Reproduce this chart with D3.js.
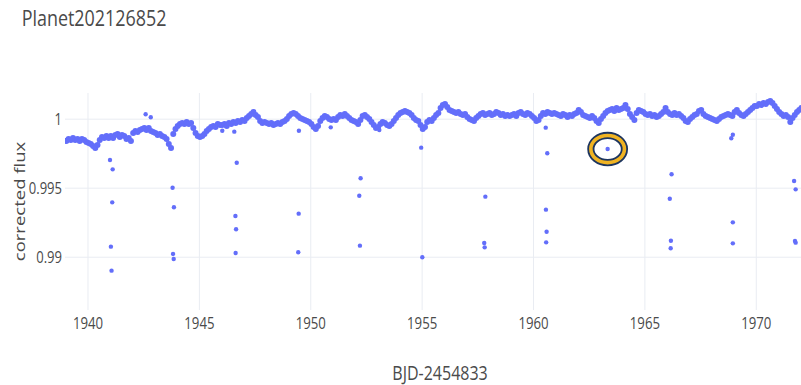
<!DOCTYPE html>
<html>
<head>
<meta charset="utf-8">
<script src="https://cdn.jsdelivr.net/npm/d3@7"></script>
<style>
  html, body { margin: 0; padding: 0; background: #fff; }
  svg { display: block; font-family: "Open Sans", "Noto Sans", sans-serif; }
</style>
</head>
<body>
<svg id="chart" width="801" height="385"></svg>
<script>
// Light curve: long-cadence samples starting at cadenceStart, one every cadenceStep days
const cadenceStart = 1939.05;
const cadenceStep = 0.1;
const flux = [
  0.99839,0.99853,0.99846,0.99860,0.99846,0.99853,0.99839,0.99853,0.99846,0.99831,
  0.99824,0.99817,0.99802,0.99788,0.99810,0.99846,0.99868,0.99860,0.99875,0.99860,
  0.99875,0.99860,0.99882,0.99889,0.99868,0.99882,0.99875,0.99853,0.99860,0.99839,
  0.99897,0.99911,0.99904,0.99918,0.99926,0.99933,0.99918,0.99933,0.99911,0.99904,
  0.99897,0.99882,0.99889,0.99875,0.99868,0.99853,0.99817,0.99788,0.99889,0.99926,
  0.99947,0.99962,0.99969,0.99962,0.99976,0.99962,0.99969,0.99933,0.99897,0.99875,
  0.99868,0.99875,0.99889,0.99911,0.99926,0.99940,0.99947,0.99940,0.99962,0.99954,
  0.99954,0.99962,0.99947,0.99969,0.99962,0.99976,0.99969,0.99983,0.99976,0.99991,
  0.99983,1.00005,1.00020,1.00034,1.00049,1.00027,1.00012,0.99983,0.99969,0.99976,
  0.99969,0.99962,0.99969,0.99954,0.99962,0.99969,0.99962,0.99976,0.99983,0.99998,
  1.00020,1.00034,1.00041,1.00034,1.00020,1.00005,0.99998,0.99991,0.99983,0.99976,
  0.99962,0.99940,0.99926,0.99947,0.99983,1.00005,1.00020,1.00012,0.99998,0.99991,
  0.99998,0.99991,1.00012,1.00027,1.00020,1.00034,1.00020,1.00005,0.99991,0.99983,
  0.99976,0.99962,0.99991,1.00020,1.00027,1.00012,0.99998,0.99976,0.99954,0.99933,
  0.99940,0.99962,0.99976,0.99969,0.99954,0.99947,0.99962,0.99983,1.00005,1.00027,
  1.00041,1.00049,1.00056,1.00049,1.00041,1.00027,1.00005,0.99991,0.99983,0.99954,
  0.99926,0.99940,0.99976,0.99991,0.99983,1.00005,1.00027,1.00041,1.00078,1.00099,
  1.00107,1.00085,1.00063,1.00056,1.00049,1.00041,1.00049,1.00034,1.00027,1.00034,
  1.00012,0.99998,0.99991,0.99983,1.00005,1.00020,1.00034,1.00041,1.00027,1.00034,
  1.00041,1.00027,1.00034,1.00049,1.00041,1.00027,1.00034,1.00020,1.00027,1.00020,
  1.00027,1.00034,1.00020,1.00041,1.00049,1.00034,1.00027,1.00041,1.00034,1.00020,
  1.00005,0.99983,0.99991,1.00020,1.00041,1.00034,1.00049,1.00041,1.00034,1.00041,
  1.00034,1.00027,1.00020,1.00034,1.00027,1.00012,1.00027,1.00020,1.00034,1.00041,
  1.00063,1.00049,1.00027,1.00020,1.00012,1.00005,1.00020,1.00005,0.99983,0.99969,
  0.99998,1.00020,1.00041,1.00056,1.00063,1.00070,1.00056,1.00078,1.00063,1.00070,
  1.00078,1.00099,1.00070,1.00034,1.00012,0.99991,1.00041,1.00063,1.00056,1.00049,
  1.00034,1.00027,1.00034,1.00020,1.00027,1.00012,1.00020,1.00034,1.00049,1.00078,
  1.00049,1.00034,1.00027,1.00041,1.00027,1.00034,1.00020,1.00005,0.99983,0.99976,
  0.99998,1.00012,1.00027,1.00034,1.00056,1.00063,1.00034,1.00020,1.00012,1.00005,
  0.99998,0.99991,0.99983,0.99998,1.00012,1.00020,1.00027,1.00034,1.00027,1.00020,
  1.00049,1.00063,1.00041,1.00027,1.00020,1.00034,1.00049,1.00063,1.00078,1.00092,
  1.00092,1.00107,1.00099,1.00114,1.00107,1.00121,1.00128,1.00114,1.00092,1.00070,
  1.00049,1.00034,1.00020,1.00027,1.00012,0.99976,1.00005,1.00027,1.00049,1.00063,
  1.00078
];

// Isolated samples off the main band (transit points and strays)
const outlierTimes = [
  1941.01,1941.13,1941.11,1941.05,1941.08,
  1942.61,1942.84,
  1943.82,1943.88,1943.84,1943.87,
  1946.05,1946.59,1946.70,1946.64,1946.67,1946.65,
  1949.49,1949.48,1949.46,1950.92,
  1952.26,1952.20,1952.23,1953.10,
  1954.98,1955.03,
  1957.86,1957.81,1957.83,
  1960.57,1960.64,1960.58,1960.61,1960.59,
  1963.35,
  1966.22,1966.14,1966.19,1966.18,
  1968.90,1968.97,1968.97,1968.97,
  1971.72,1971.79,1971.76,1971.79
];
const outlierFlux = [
  0.99701,0.99633,0.99394,0.99073,0.98899,
  1.00032,1.00010,
  0.99500,0.99358,0.99020,0.98983,
  0.99913,0.99906,0.99681,0.99295,0.99199,0.99027,
  0.99913,0.99312,0.99032,0.99937,
  0.99568,0.99442,0.99080,0.99918,
  0.99790,0.98996,
  0.99435,0.99099,0.99068,
  0.99935,0.99749,0.99341,0.99181,0.99104,
  0.99780,
  0.99597,0.99420,0.99116,0.99061,
  0.99858,0.99884,0.99249,0.99097,
  0.99549,0.99488,0.99114,0.99102
];

// Sample ringed by the marker annotation
const markedTime = 1963.35;
const markedFlux = 0.99780;

const xTicks = [1940, 1945, 1950, 1955, 1960, 1965, 1970];
const yTicks = [0.99, 0.995, 1];

const titleText = "Planet202126852";
const xTitle = "BJD-2454833";
const yTitle = "corrected flux";

// ---- layout ----
const W = 801, H = 385;
const plot = { left: 65, right: 801, top: 93, bottom: 310 };
const squash = "scale(0.8,1)";
const textColor = "#4a4a4a";
const gridColor = "#e9ecf2";
const markerColor = "#636efa";
const rBand = 3;
const rStray = 2.2;

const svg = d3.select("#chart");
svg.append("rect").attr("width", W).attr("height", H).attr("fill", "#fff");

const x = d3.scaleLinear().domain([1938.99, 1972.03]).range([plot.left, plot.right]);
const y = d3.scaleLinear().domain([0.98614, 1.00186]).range([plot.bottom, plot.top]);

// x gridlines + tick labels
const gx = svg.append("g")
  .attr("transform", `translate(0,${plot.bottom})`)
  .call(d3.axisBottom(x).tickValues(xTicks).tickFormat(d3.format("d"))
    .tickSize(-(plot.bottom - plot.top)));
gx.select(".domain").remove();
gx.selectAll(".tick line").attr("stroke", gridColor).attr("stroke-width", 1);
gx.selectAll(".tick text")
  .attr("y", null).attr("dy", null)
  .attr("transform", `translate(0,19) ${squash}`)
  .attr("fill", textColor)
  .style("font-size", "16.5px")
  .style("font-family", '"Open Sans", sans-serif');

// y gridlines + tick labels
const gy = svg.append("g")
  .attr("transform", `translate(${plot.left},0)`)
  .call(d3.axisLeft(y).tickValues(yTicks).tickFormat(d3.format("~g"))
    .tickSize(-(plot.right - plot.left)));
gy.select(".domain").remove();
gy.selectAll(".tick line").attr("stroke", gridColor).attr("stroke-width", 1);
gy.selectAll(".tick text")
  .attr("x", null).attr("dy", null)
  .attr("transform", `translate(-3,5.8) ${squash}`)
  .attr("fill", textColor)
  .style("font-size", "16.3px")
  .style("font-family", '"Open Sans", sans-serif');

// markers, clipped to the plotting area
svg.append("clipPath").attr("id", "plot-clip")
  .append("rect")
  .attr("x", plot.left).attr("y", plot.top)
  .attr("width", plot.right - plot.left).attr("height", plot.bottom - plot.top);

const marks = svg.append("g").attr("clip-path", "url(#plot-clip)");

const bandPoints = flux.map((f, i) => ({ t: cadenceStart + i * cadenceStep, f }));
marks.selectAll("circle.band")
  .data(bandPoints)
  .join("circle")
  .attr("class", "band")
  .attr("cx", d => x(d.t))
  .attr("cy", d => y(d.f))
  .attr("r", rBand)
  .attr("fill", markerColor);

const strayPoints = outlierTimes.map((t, i) => ({ t, f: outlierFlux[i] }));
marks.selectAll("circle.stray")
  .data(strayPoints)
  .join("circle")
  .attr("class", "stray")
  .attr("cx", d => x(d.t))
  .attr("cy", d => y(d.f))
  .attr("r", rStray)
  .attr("fill", markerColor);

// ring around the highlighted sample
const ring = svg.append("g")
  .attr("transform", `translate(${x(markedTime)},${y(markedFlux)})`);
ring.append("ellipse").attr("rx", 16.8).attr("ry", 13.6)
  .attr("fill", "none").attr("stroke", "#1d355f").attr("stroke-width", 7.2);
ring.append("ellipse").attr("rx", 16.8).attr("ry", 13.6)
  .attr("fill", "none").attr("stroke", "#f0b322").attr("stroke-width", 3.6);

// titles
svg.append("text")
  .attr("transform", `translate(21.7,26) ${squash}`)
  .attr("fill", textColor)
  .style("font-size", "22.4px")
  .text(titleText);

svg.append("text")
  .attr("transform", `translate(440,380) ${squash}`)
  .attr("text-anchor", "middle")
  .attr("fill", textColor)
  .style("font-size", "20px")
  .text(xTitle);

svg.append("text")
  .attr("transform", `translate(24.5,${(plot.top + plot.bottom) / 2}) ${squash} rotate(-90)`)
  .attr("text-anchor", "middle")
  .attr("fill", textColor)
  .style("font-size", "18.5px")
  .text(yTitle);
</script>
</body>
</html>
